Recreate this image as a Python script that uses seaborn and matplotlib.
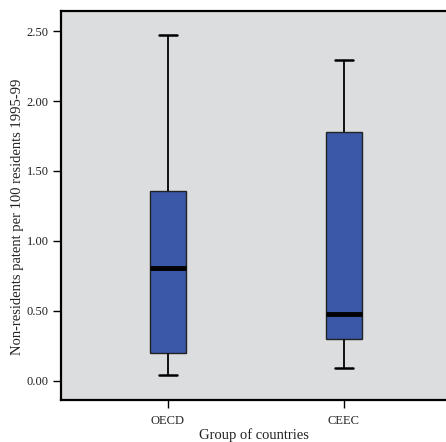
import matplotlib
matplotlib.use("Agg")
import matplotlib.pyplot as plt
import seaborn as sns
import pandas as pd

# Five-number summaries per group: lower whisker, Q1, median, Q3, upper whisker
groups = ["OECD", "CEEC"]
oecd_summary = [0.04, 0.20, 0.81, 1.36, 2.47]
ceec_summary = [0.09, 0.30, 0.48, 1.78, 2.29]
y_ticks = [0.0, 0.5, 1.0, 1.5, 2.0, 2.5]

df = pd.DataFrame({
    "group": [groups[0]] * len(oecd_summary) + [groups[1]] * len(ceec_summary),
    "value": oecd_summary + ceec_summary,
})

sns.set_style("white")
plt.rcParams["font.family"] = ["Liberation Serif", "DejaVu Serif"]

fig = plt.figure(figsize=(4.46, 4.42), dpi=100)
ax = fig.add_axes([61 / 446, 1 - 400 / 442, 1 - 61 / 446, 389 / 442])
ax.set_facecolor("#dcdddf")

sns.boxplot(
    data=df, x="group", y="value", order=groups, ax=ax,
    whis=(0, 100), width=0.2, color="#3b58a8", saturation=1,
    linecolor="#111111", linewidth=1.0,
    medianprops=dict(color="black", linewidth=3.5),
    whiskerprops=dict(color="black", linewidth=1.3),
    capprops=dict(color="black", linewidth=1.8),
    boxprops=dict(edgecolor="#222222", linewidth=1.0),
)

ax.set_xlim(-0.608, 1.58)
ax.set_ylim(-0.136, 2.643)
ax.set_yticks(y_ticks)
ax.set_yticklabels([f"{v:.2f}" for v in y_ticks])
ax.tick_params(axis="both", direction="out", length=6, width=1, color="black",
               labelsize=9, left=True, bottom=True, labelcolor="#222222")
ax.tick_params(axis="x", pad=5)
ax.tick_params(axis="y", pad=3)
ax.set_xlabel("Group of countries", fontsize=10.5, labelpad=1, color="#222222")
ax.set_ylabel("Non-residents patent per 100 residents 1995-99", fontsize=10.5,
              color="#222222")
ax.yaxis.set_label_coords(-0.097, 0.47)

for side in ["left", "top", "bottom"]:
    ax.spines[side].set_visible(True)
    ax.spines[side].set_color("black")
    ax.spines[side].set_linewidth(1.6)
ax.spines["right"].set_visible(False)

fig.savefig("out.png", dpi=100)
